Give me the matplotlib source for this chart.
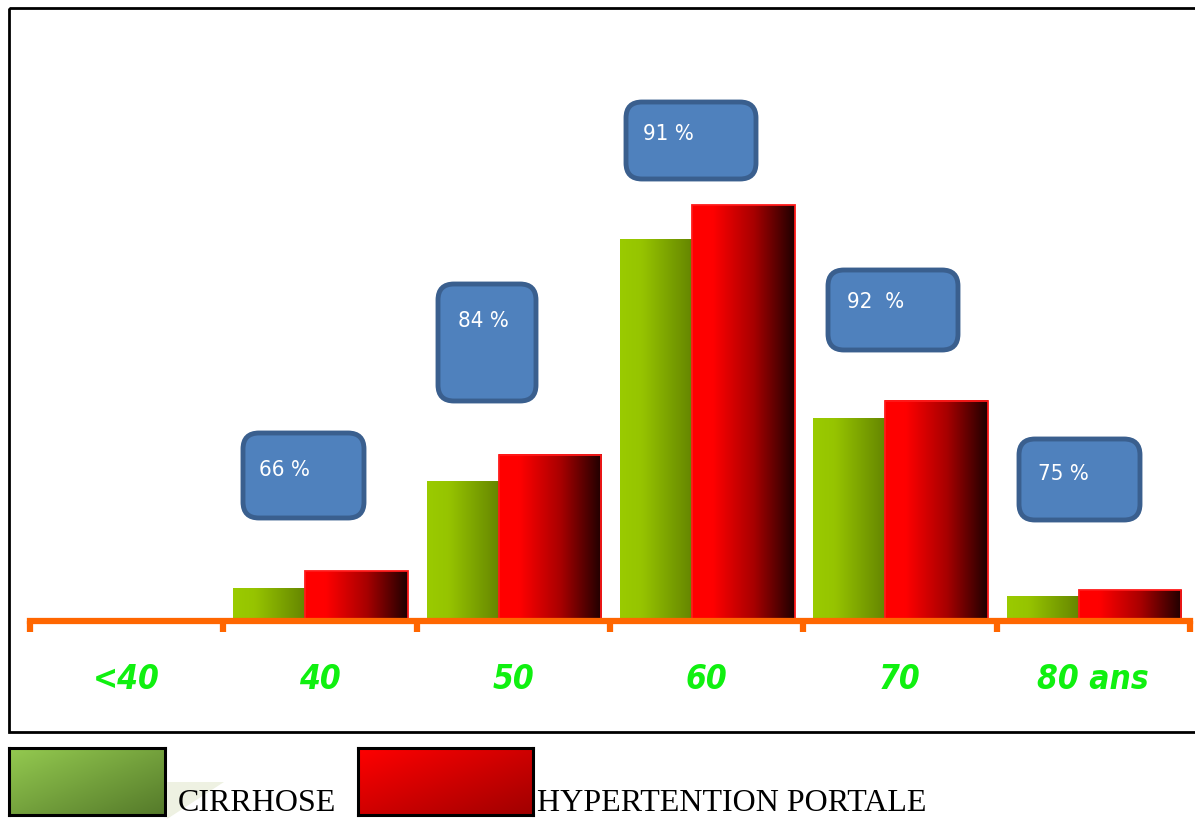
import numpy as np
import matplotlib

matplotlib.use("Agg")
import matplotlib.pyplot as plt
from matplotlib import font_manager as fm
from matplotlib.colors import LinearSegmentedColormap
from matplotlib.patches import FancyBboxPatch, Rectangle, Polygon
from matplotlib.transforms import Affine2D

# ---------------------------------------------------------------------------
# Data: age groups, cirrhosis vs portal hypertension
# ---------------------------------------------------------------------------
AGE_LABELS = ["<40", "40", "50", "60", "70", "80 ans"]
HYPERTENSION = [0, 6.0, 20.0, 50.0, 26.5, 3.7]
CIRRHOSE = [0, 3.9, 16.8, 45.9, 24.3, 2.9]
PCT_LABELS = ["66 %", "84 %", "91 %", "92  %", "75 %"]

W, H = 1195, 819


def narrow_font(**props):
    """Return a narrow sans family/stretch if one is installed."""
    for fam, stretch in (("Liberation Sans Narrow", "normal"),
                         ("DejaVu Sans", "condensed")):
        try:
            path = fm.findfont(fm.FontProperties(family=fam, stretch=stretch,
                                                 **props),
                               fallback_to_default=False)
        except ValueError:
            continue
        name = path.lower()
        if "narrow" in name or "condensed" in name:
            return fam, stretch
    return "Liberation Sans", "normal"


fig = plt.figure(figsize=(W / 100, H / 100), dpi=100)
fig.patch.set_facecolor("white")

# pixel coordinates measured from the top-left corner of the figure
px = Affine2D().scale(1.0 / W, -1.0 / H).translate(0, 1) + fig.transFigure

# outer frame
fig.patches.append(Rectangle((9, 8), 1200, 724, transform=px, fill=False,
                             edgecolor="black", linewidth=2.0, zorder=0))

# --- bar axes ---------------------------------------------------------------
base_y, top_y = 621, 8
ax = fig.add_axes([30 / W, 1 - base_y / H, 1160 / W, (base_y - top_y) / H])
ax.patch.set_alpha(0)

green_cmap = LinearSegmentedColormap.from_list(
    "green", [(0, "#9acb00"), (0.3, "#96c400"), (1, "#658600")])
red_cmap = LinearSegmentedColormap.from_list(
    "red", [(0, "#ff0000"), (0.2, "#ff0000"), (0.6, "#a80000"), (1, "#1e0000")])
grad = np.linspace(0, 1, 256).reshape(1, -1)

idx = np.arange(len(AGE_LABELS))
green_bars = ax.bar(idx + 0.052, CIRRHOSE, width=0.372, align="edge",
                    facecolor="none", edgecolor="none", zorder=3)
red_bars = ax.bar(idx + 0.424, HYPERTENSION, width=0.532, align="edge",
                  facecolor="none", edgecolor="#ff1a1a", linewidth=1.3, zorder=3)

for bars, cmap in ((green_bars, green_cmap), (red_bars, red_cmap)):
    for p in bars:
        h = p.get_height()
        if h <= 0:
            p.set_visible(False)
            continue
        x0, w = p.get_x(), p.get_width()
        ax.imshow(grad, cmap=cmap, extent=[x0, x0 + w, 0, h],
                  aspect="auto", interpolation="bicubic", zorder=2)

ax.set_xlim(0, len(AGE_LABELS))
ax.set_ylim(0, (base_y - top_y) / 8.32)

for s in ("top", "right", "left"):
    ax.spines[s].set_visible(False)
ax.spines["bottom"].set_color("#ff6600")
ax.spines["bottom"].set_linewidth(4.5)
ax.spines["bottom"].set_zorder(4)
ax.set_yticks([])

lab_fam, lab_stretch = narrow_font(weight="bold", style="italic")
ax.set_xticks(idx + 0.5)
ax.set_xticklabels(AGE_LABELS)
ax.set_xticks(np.arange(len(AGE_LABELS) + 1), minor=True)
ax.tick_params(axis="x", which="major", length=0, pad=30)
ax.tick_params(axis="x", which="minor", length=8, width=4.5, color="#ff6600")
for lab in ax.get_xticklabels():
    lab.set_fontfamily(lab_fam)
    lab.set_fontstretch(lab_stretch)
    lab.set_fontsize(27 if lab_fam == "Liberation Sans Narrow" else 24)
    lab.set_fontweight("bold")
    lab.set_fontstyle("italic")
    lab.set_color("#10f010")

# --- percentage call-outs -----------------------------------------------------
box_fam, box_stretch = narrow_font()
boxes = [  # (left, top, right, bottom, text x, text y)
    (243, 433, 364, 518, 259, 470),
    (438, 284, 536, 401, 458, 321),
    (626, 102, 756, 179, 643, 134),
    (828, 270, 958, 350, 847, 302),
    (1019, 439, 1140, 520, 1038, 474),
]
for (l, t, r, b, tx, ty), txt in zip(boxes, PCT_LABELS):
    fig.patches.append(FancyBboxPatch(
        (l, t), r - l, b - t, boxstyle="round,pad=0,rounding_size=16",
        transform=px, facecolor="#4f81bd", edgecolor="#3a5f8e",
        linewidth=3.5, zorder=5))
    fig.text(tx, ty, txt, transform=px, ha="left", va="center",
             color="white",
             fontsize=17 if box_fam == "Liberation Sans Narrow" else 16,
             fontfamily=box_fam, fontstretch=box_stretch, zorder=6)

# --- legend -------------------------------------------------------------------
def swatch(x0, y0, x1, y1, c_a, c_b):
    sax = fig.add_axes([x0 / W, 1 - y1 / H, (x1 - x0) / W, (y1 - y0) / H])
    yy, xx = np.mgrid[0:1:64j, 0:1:64j]
    cm = LinearSegmentedColormap.from_list("sw", [c_a, c_b])
    sax.imshow((xx + yy) / 2, cmap=cm, aspect="auto", interpolation="bicubic")
    sax.set_xticks([])
    sax.set_yticks([])
    for s in sax.spines.values():
        s.set_linewidth(2.2)
        s.set_color("black")


fig.patches.append(Polygon([(167, 782), (224, 782), (167, 819)], closed=True,
                           transform=px, facecolor="#eef1e2",
                           edgecolor="none", zorder=0))
swatch(9, 748, 165, 815, "#94ca50", "#557a2a")
swatch(358, 748, 533, 815, "#ff0000", "#a00000")
fig.text(178, 811, "CIRRHOSE", transform=px, ha="left", va="baseline",
         fontsize=23, fontfamily="Liberation Serif", color="black")
fig.text(537, 811, "HYPERTENTION PORTALE", transform=px, ha="left",
         va="baseline", fontsize=23, fontfamily="Liberation Serif",
         color="black")

fig.savefig("out.png", dpi=100)
